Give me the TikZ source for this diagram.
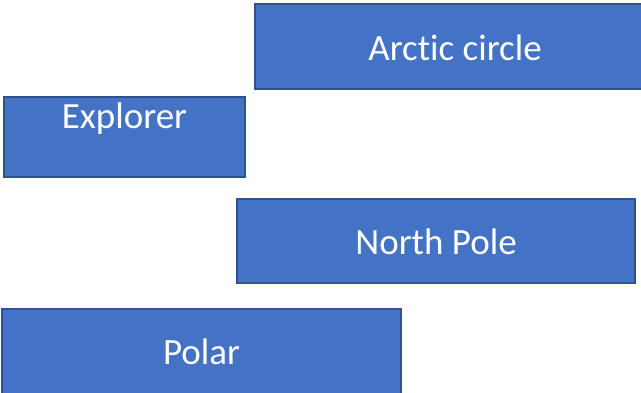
\documentclass[tikz,border=0pt]{standalone}
\usepackage{fontspec}
\setmainfont{Carlito}[Ligatures=NoCommon]
\definecolor{boxfill}{HTML}{4472C4}
\definecolor{boxline}{HTML}{2F528F}
\begin{document}
\begin{tikzpicture}[x=1pt,y=-1pt,
  termbox/.style={draw=boxline, fill=boxfill, line width=1.5pt, inner sep=0pt},
  termtext/.style={text=white, font=\fontsize{37}{44}\selectfont, inner sep=0pt, anchor=base}]
  \useasboundingbox (0,0) rectangle (641,393);
  \clip (0,0) rectangle (641,393);
  % boxes
  \node[termbox, minimum width=400pt, minimum height=85pt] (arctic) at (455,46.5) {};
  \node[termbox, minimum width=241pt, minimum height=80pt] (explorer) at (124.5,137) {};
  \node[termbox, minimum width=398pt, minimum height=84pt] (north) at (436,241) {};
  \node[termbox, minimum width=399pt, minimum height=85pt] (polar) at (201.5,351.5) {};
  % labels, placed by their baselines below each box's top edge
  \node[termtext] (tarctic) at ([yshift=-57pt]arctic.north) {Arctic circle};
  \node[termtext] (texplorer) at ([yshift=-32pt]explorer.north) {Explorer};
  \node[termtext] (tnorth) at ([yshift=-56pt]north.north) {North Pole};
  \node[termtext] (tpolar) at ([yshift=-56pt]polar.north) {Polar};
\end{tikzpicture}
\end{document}
